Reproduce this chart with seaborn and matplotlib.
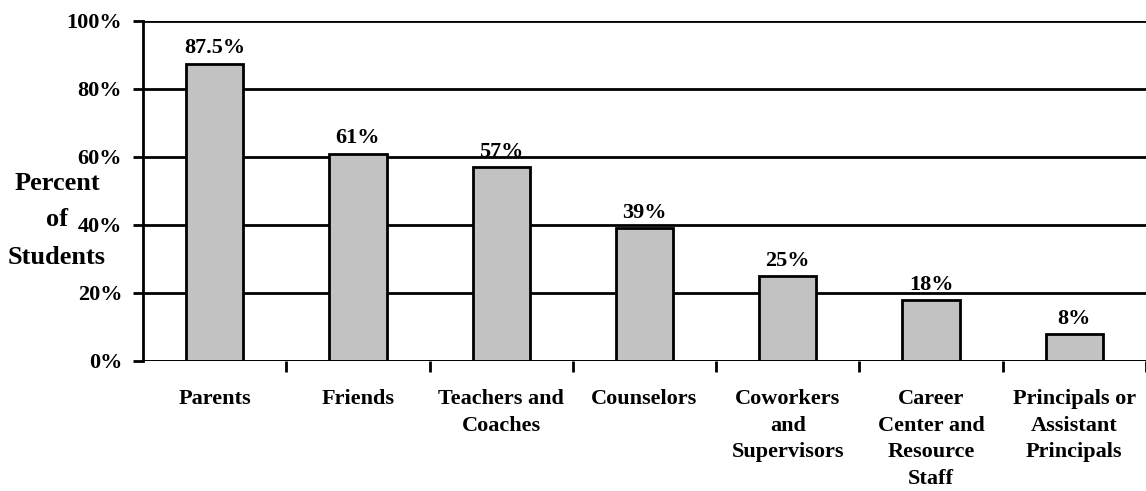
import matplotlib
matplotlib.use("Agg")
import matplotlib.pyplot as plt
import seaborn as sns
import pandas as pd
import numpy as np
from matplotlib.ticker import FixedLocator, PercentFormatter

categories = ["Parents", "Friends", "Teachers and\nCoaches", "Counselors",
              "Coworkers\nand\nSupervisors", "Career\nCenter and\nResource\nStaff",
              "Principals or\nAssistant\nPrincipals"]
values = [87.5, 61, 57, 39, 25, 18, 8]
bar_labels = ["87.5%", "61%", "57%", "39%", "25%", "18%", "8%"]
yticks = [0, 20, 40, 60, 80, 100]
ylabel_lines = ["Percent", "of", "Students"]

sns.set_theme(style="white")
plt.rcParams['font.family'] = ['Liberation Serif', 'DejaVu Serif']
plt.rcParams['font.weight'] = 'bold'

df = pd.DataFrame({"cat": categories, "val": values})

fig = plt.figure(figsize=(11.46, 4.91), dpi=100)
ax = fig.add_axes([143/1146, 1-361/491, 1-143/1146, 340/491])

sns.barplot(data=df, x="cat", y="val", ax=ax, color="#c2c2c2", width=0.4,
            edgecolor="black", linewidth=2, saturation=1, zorder=3)

ax.set_ylim(0, 100)
ax.set_xlim(-0.5, len(categories) - 0.5)
ax.yaxis.set_major_locator(FixedLocator(yticks))
ax.yaxis.set_major_formatter(PercentFormatter(decimals=0))
ax.grid(axis="y", color="black", linewidth=2, zorder=0)
ax.set_axisbelow(True)
for s in ["top", "right", "bottom"]:
    ax.spines[s].set_visible(False)
ax.spines["left"].set_color("black")
ax.spines["left"].set_linewidth(2)
ax.axhline(0, color="black", linewidth=2, zorder=4)

ax.tick_params(axis="y", which="major", left=True, length=7, width=2, color="black",
               labelsize=16, pad=8, labelcolor="black")
ax.tick_params(axis="x", which="major", bottom=False, length=0, labelsize=16,
               pad=20, labelcolor="black")
ax.set_xticks(np.arange(len(categories)) + 0.5, minor=True)
ax.tick_params(axis="x", which="minor", bottom=True, length=8, width=2, color="black")
for lbl in ax.get_xticklabels():
    lbl.set_fontweight("bold")
    lbl.set_linespacing(1.45)
for lbl in ax.get_yticklabels():
    lbl.set_fontweight("bold")

ax.set_xlabel("")
ax.set_ylabel("")

for i, (v, t) in enumerate(zip(values, bar_labels)):
    ax.annotate(t, (i, v), xytext=(0, 11), textcoords="offset points",
                ha="center", va="center", fontsize=16, fontweight="bold", color="black")

for txt, ypix in zip(ylabel_lines, [184, 220, 257]):
    fig.text(57/1146, 1-ypix/491, txt, ha="center", va="center",
             fontsize=19, fontweight="bold", color="black")

fig.savefig("out.png", dpi=100)
